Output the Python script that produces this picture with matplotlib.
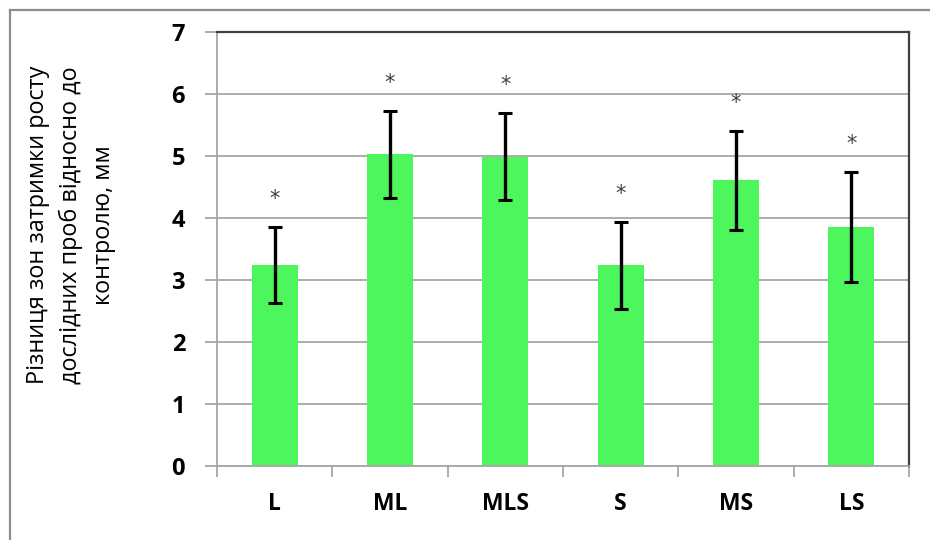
import matplotlib
matplotlib.use("Agg")
import matplotlib.pyplot as plt
from matplotlib.lines import Line2D
import numpy as np

# Sample groups, mean difference of growth-inhibition zones and error (mm)
samples = ["L", "ML", "MLS", "S", "MS", "LS"]
means = [3.24, 5.03, 4.99, 3.24, 4.61, 3.86]
errors = [0.61, 0.70, 0.70, 0.70, 0.80, 0.89]
significant = [True, True, True, True, True, True]

ylabel = "Різниця зон затримки росту\nдослідних проб відносно до\nконтролю, мм"

plt.rcParams["font.family"] = ["Open Sans", "DejaVu Sans"]

BAR_COLOR = "#4cf65c"
GRID_COLOR = "#a6a6a6"

fig = plt.figure(figsize=(9.3, 5.4), dpi=100)
ax = fig.add_axes([217 / 930, 74 / 540, 692 / 930, 434 / 540])

x = np.arange(len(samples))
ax.bar(x, means, width=0.4, color=BAR_COLOR, zorder=2)
ax.errorbar(x, means, yerr=errors, fmt="none", ecolor="black",
            elinewidth=2.4, capsize=5, capthick=2.2, zorder=3)

# significance marks above the error bars
for xi, m, e, sig in zip(x, means, errors, significant):
    if sig:
        ax.annotate("*", (xi, m + e), xytext=(0, 28), textcoords="offset pixels",
                    ha="center", va="center", fontsize=15, color="#404040",
                    family="DejaVu Sans")

ax.set_xlim(-0.5, len(samples) - 0.5)
ax.set_ylim(0, 7)
ax.set_yticks(range(0, 8))
ax.yaxis.grid(True, color=GRID_COLOR, linewidth=1.3, zorder=0)
ax.set_axisbelow(True)

ax.set_xticks(x)
ax.set_xticklabels(samples, fontsize=16.5, fontweight="bold")
ax.set_xticks(np.arange(-0.5, len(samples)), minor=True)
ax.tick_params(axis="x", which="major", length=0, pad=19)
ax.tick_params(axis="x", which="minor", length=8, width=1.3, color=GRID_COLOR)
ax.tick_params(axis="y", length=9, width=1.3, color=GRID_COLOR, pad=14,
               labelsize=17)
for lbl in ax.get_yticklabels():
    lbl.set_fontweight("bold")

for side in ("left", "bottom"):
    ax.spines[side].set_color(GRID_COLOR)
    ax.spines[side].set_linewidth(1.3)
for side in ("top", "right"):
    ax.spines[side].set_color("#404040")
    ax.spines[side].set_linewidth(1.6)

fig.text(71 / 930, 1 - 225 / 540, ylabel, rotation=90, ha="center", va="center",
         fontsize=16.8, linespacing=1.5)

# chart area border
fig.add_artist(Line2D([10 / 930, 10 / 930], [0, 1 - 10 / 540],
                      transform=fig.transFigure, color="#8c8c8c", linewidth=1.6))
fig.add_artist(Line2D([10 / 930, 1], [1 - 10 / 540, 1 - 10 / 540],
                      transform=fig.transFigure, color="#8c8c8c", linewidth=1.6))

fig.savefig("out.png", dpi=100, facecolor="white")
